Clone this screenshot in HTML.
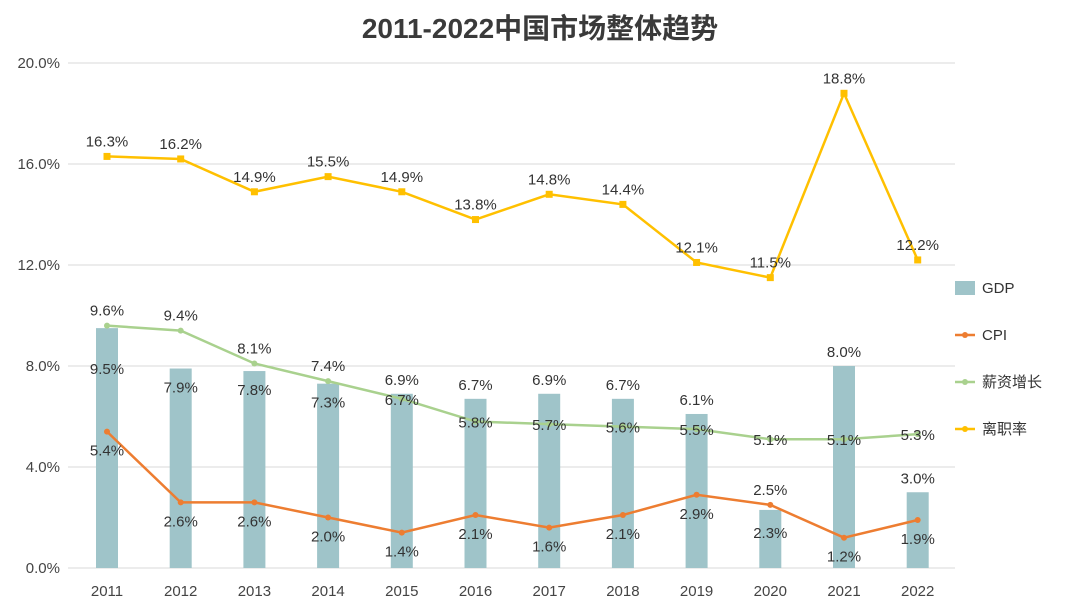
<!DOCTYPE html>
<html><head><meta charset="utf-8"><style>
body{margin:0;background:#fff;}
svg text{font-family:"Liberation Sans","Noto Sans CJK SC",sans-serif;}
</style></head><body>
<svg id="c" width="1080" height="610" xmlns="http://www.w3.org/2000/svg">
<text x="540" y="38" text-anchor="middle" font-size="28" font-weight="bold" fill="#3a3a3a">2011-2022中国市场整体趋势</text>
<g id="grid"></g><g id="bars"></g><g id="lines"></g><g id="labels"></g><g id="legend"></g>
</svg>
<script>
const years=["2011","2012","2013","2014","2015","2016","2017","2018","2019","2020","2021","2022"];
const gdp=[9.5,7.9,7.8,7.3,6.9,6.7,6.9,6.7,6.1,2.3,8.0,3.0];
const cpi=[5.4,2.6,2.6,2.0,1.4,2.1,1.6,2.1,2.9,2.5,1.2,1.9];
const salary=[9.6,9.4,8.1,7.4,6.7,5.8,5.7,5.6,5.5,5.1,5.1,5.3];
const turnover=[16.3,16.2,14.9,15.5,14.9,13.8,14.8,14.4,12.1,11.5,18.8,12.2];
const yTicks=[0,4,8,12,16,20];
// label placement styles (not data)
const gdpPos=["in","in","in","in","up","up","up","up","up","in","up","up"];
const salPos=["up","up","up","up","mid","mid","mid","mid","mid","mid","mid","mid"];
const cpiPos=["dn","dn","dn","dn","dn","dn","dn","dn","dn","up","dn","dn"];
const NS="http://www.w3.org/2000/svg";
const y=v=>568-v*(505/20);
const x=i=>107+i*73.7;
function el(t,a,p){const e=document.createElementNS(NS,t);for(const k in a)e.setAttribute(k,a[k]);document.getElementById(p).appendChild(e);return e;}
function txt(s,a,p){const e=el("text",a,p);e.textContent=s;return e;}
yTicks.forEach(t=>{
 const g=el("line",{x1:68,x2:955,y1:y(t),y2:y(t),stroke:"#d9d9d9","stroke-width":1},"grid");
 
 
 const l=txt(t.toFixed(1)+"%",{x:60,y:y(t)+5,"text-anchor":"end","font-size":15,fill:"#444"},"grid");
 
 
});
years.forEach((yr,i)=>{
 const l=txt(yr,{x:x(i),y:596,"text-anchor":"middle","font-size":15,fill:"#444"},"grid");
 
 
});
gdp.forEach((v,i)=>{
 const r=el("rect",{x:x(i)-11,y:y(v),width:22,height:y(0)-y(v),fill:"#9fc4c9"},"bars");
 
 
 let ly;
 if(gdpPos[i]==="up") ly=y(v)-9;
 else if(i===0) ly=y(v)+46;
 else if(i===9) ly=y(v)+28;
 else ly=y(v)+24;
 const l=txt(v.toFixed(1)+"%",{x:x(i),y:ly,"text-anchor":"middle","font-size":15,fill:"#333"},"labels");
 
 
});
function line(d,color,name,marker,posArr){
 const p=el("polyline",{points:d.map((v,i)=>x(i)+","+y(v)).join(" "),fill:"none",stroke:color,"stroke-width":2.5},"lines");
 
 
 d.forEach((v,i)=>{
  const m=marker==="sq"?el("rect",{x:x(i)-3.5,y:y(v)-3.5,width:7,height:7,fill:color},"lines"):el("circle",{cx:x(i),cy:y(v),r:3,fill:color},"lines");
  
  
  const pos=posArr[i];
  const ly=pos==="up"?y(v)-10:pos==="dn"?y(v)+24:y(v)+6;
  const l=txt(v.toFixed(1)+"%",{x:x(i),y:ly,"text-anchor":"middle","font-size":15,fill:"#333"},"labels");
  
  
 });
}
line(salary,"#a9d18e","salary","dot",salPos);
line(cpi,"#ed7d31","cpi","dot",cpiPos);
line(turnover,"#ffc000","turnover","sq",turnover.map(()=>"up"));
const leg=[["GDP","#9fc4c9","bar"],["CPI","#ed7d31","dot"],["薪资增长","#a9d18e","dot"],["离职率","#ffc000","sq"]];
leg.forEach((e,k)=>{
 const ly=288+k*47;
 if(e[2]==="bar"){const r=el("rect",{x:955,y:ly-7,width:20,height:14,fill:e[1]},"legend");}
 else{const r=el("line",{x1:955,x2:975,y1:ly,y2:ly,stroke:e[1],"stroke-width":2.5},"legend");
  const m=el("circle",{cx:965,cy:ly,r:3,fill:e[1]},"legend");}
 const t=txt(e[0],{x:982,y:ly+5,"font-size":15,fill:"#333"},"legend");
 
 
});
</script>
</body></html>
